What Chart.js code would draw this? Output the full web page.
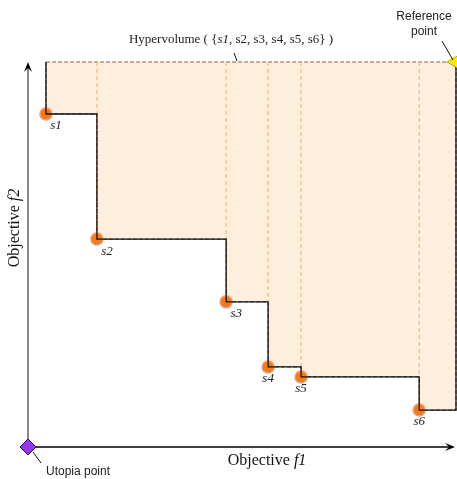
<!DOCTYPE html>
<html>
<head>
<meta charset="utf-8">
<script src="https://cdn.jsdelivr.net/npm/chart.js"></script>
<style>
  body { margin: 0; background: #fff; }
  #wrap { width: 457px; height: 479px; }
</style>
</head>
<body>
<div id="wrap"><canvas id="hv" width="457" height="479"></canvas></div>
<script>
// non-dominated solutions (objective space)
const names = ['s1', 's2', 's3', 's4', 's5', 's6'];
const f1 = [0.42, 1.61, 4.63, 5.61, 6.38, 9.14];
const f2 = [8.65, 5.40, 3.77, 2.08, 1.82, 0.96];
const refPoint = [10, 10];
const utopia = [0, 0];

// staircase from the reference level down through every solution
const stairs = [{ x: f1[0], y: refPoint[1] }];
f1.forEach(function(x, i) {
    stairs.push({ x: x, y: f2[i] });
    var nextX = i < f1.length - 1 ? f1[i + 1] : refPoint[0];
    stairs.push({ x: nextX, y: f2[i] });
});
stairs.push({ x: refPoint[0], y: refPoint[1] });
const region = stairs.concat([{ x: f1[0], y: refPoint[1] }]);

// dashed dividers above s2..s6
const dividers = f1.slice(1).map(function(x, i) {
    return {
        data: [{ x: x, y: refPoint[1] }, { x: x, y: f2[i + 1] }],
        showLine: true, borderColor: '#f9b06a', borderWidth: 1, borderDash: [4, 3],
        pointRadius: 0, clip: false, order: 3
    };
});

function drawRuns(ctx, runs, x, y, align) {
    var total = 0;
    runs.forEach(function(r) { ctx.font = r[1]; total += ctx.measureText(r[0]).width; });
    var cx = align === 'center' ? x - total / 2 : x;
    ctx.textAlign = 'left';
    runs.forEach(function(r) {
        ctx.font = r[1];
        ctx.fillText(r[0], cx, y);
        cx += ctx.measureText(r[0]).width;
    });
}

function arrow(ctx, x1, y1, x2, y2, color) {
    var a = Math.atan2(y2 - y1, x2 - x1), len = 10, w = 4;
    ctx.strokeStyle = color;
    ctx.lineWidth = 1.4;
    ctx.beginPath();
    ctx.moveTo(x1, y1);
    ctx.lineTo(x2 - Math.cos(a) * 4, y2 - Math.sin(a) * 4);
    ctx.stroke();
    ctx.fillStyle = '#000';
    ctx.beginPath();
    ctx.moveTo(x2, y2);
    ctx.lineTo(x2 - len * Math.cos(a) + w * Math.sin(a), y2 - len * Math.sin(a) - w * Math.cos(a));
    ctx.lineTo(x2 - 6 * Math.cos(a), y2 - 6 * Math.sin(a));
    ctx.lineTo(x2 - len * Math.cos(a) - w * Math.sin(a), y2 - len * Math.sin(a) + w * Math.cos(a));
    ctx.closePath();
    ctx.fill();
}

const decorations = {
    id: 'decorations',
    beforeDatasetsDraw: function(chart) {
        var ctx = chart.ctx, xs = chart.scales.x, ys = chart.scales.y;
        var ox = xs.getPixelForValue(utopia[0]), oy = ys.getPixelForValue(utopia[1]);
        ctx.save();
        arrow(ctx, ox, oy, ox, ys.getPixelForValue(refPoint[1]), '#555');
        arrow(ctx, ox, oy, xs.getPixelForValue(refPoint[0]) - 1, oy, '#000');
        ctx.restore();
    },
    afterDraw: function(chart) {
        var ctx = chart.ctx, xs = chart.scales.x, ys = chart.scales.y;
        ctx.save();
        ctx.fillStyle = '#222';
        ctx.textBaseline = 'middle';
        // point labels
        var serifI = 'italic 13px "Liberation Serif"';
        names.forEach(function(n, i) {
            var px = xs.getPixelForValue(f1[i]), py = ys.getPixelForValue(f2[i]);
            var dx = i < 3 ? 10 : 0;
            ctx.font = serifI;
            ctx.textAlign = 'center';
            ctx.fillText(n, px + dx, py + 12);
        });
        // hypervolume caption
        var reg = '13px "Liberation Serif"';
        drawRuns(ctx, [['Hypervolume ( {', reg], ['s1', serifI], [', s2, s3, s4, s5, s6} )', reg]], 231, 40, 'center');
        // axis titles
        var big = '16px "Liberation Serif"', bigI = 'italic 16px "Liberation Serif"';
        ctx.fillStyle = '#111';
        drawRuns(ctx, [['Objective ', big], ['f1', bigI]], 267, 461, 'center');
        ctx.save();
        ctx.translate(15, 228);
        ctx.rotate(-Math.PI / 2);
        drawRuns(ctx, [['Objective ', big], ['f2', bigI]], 0, 0, 'center');
        ctx.restore();
        // callouts
        ctx.fillStyle = '#222';
        ctx.font = '12px "Liberation Sans"';
        ctx.textAlign = 'center';
        ctx.fillText('Reference', 424, 17);
        ctx.fillText('point', 424, 32);
        ctx.textAlign = 'left';
        ctx.fillText('Utopia point', 46, 472);
        ctx.strokeStyle = '#111';
        ctx.lineWidth = 1;
        ctx.beginPath();
        ctx.moveTo(442, 41); ctx.lineTo(453, 60);
        ctx.moveTo(234, 53); ctx.lineTo(237, 61);
        ctx.moveTo(33, 452); ctx.lineTo(41, 463);
        ctx.stroke();
        ctx.restore();
    }
};

new Chart(document.getElementById('hv').getContext('2d'), {
    type: 'scatter',
    data: {
        datasets: [{
            data: region, showLine: true, fill: 'shape',
            backgroundColor: '#fdeede', borderColor: '#7d6650', borderWidth: 1.2,
            borderDash: [4, 2], pointRadius: 0, clip: false, order: 6
        }, {
            data: f1.map(function(x, i) { return { x: x, y: f2[i] }; }),
            pointRadius: 6, pointBackgroundColor: '#f57c0f', pointBorderColor: '#ee9a7c',
            pointBorderWidth: 1.5, clip: false, order: 4
        }].concat(dividers).concat([{
            data: stairs, showLine: true, borderColor: '#111', borderWidth: 1.3,
            pointRadius: 0, clip: false, order: 1
        }, {
            data: [{ x: refPoint[0], y: refPoint[1] }],
            pointStyle: 'triangle', rotation: -90, pointRadius: 9,
            pointBackgroundColor: '#ffee00', pointBorderColor: '#b8a800', clip: false, order: 0
        }, {
            data: [{ x: utopia[0], y: utopia[1] }],
            pointStyle: 'rectRot', pointRadius: 8, pointBorderWidth: 1,
            pointBackgroundColor: '#9636ee', pointBorderColor: '#2a0a50', clip: false, order: 0
        }])
    },
    options: {
        responsive: false,
        animation: false,
        events: [],
        layout: { autoPadding: false, padding: { left: 28, right: 1, top: 62, bottom: 32 } },
        scales: {
            x: { type: 'linear', min: 0, max: 10, display: false },
            y: { type: 'linear', min: 0, max: 10, display: false }
        },
        plugins: { legend: { display: false }, tooltip: { enabled: false } }
    },
    plugins: [decorations]
});
</script>
</body>
</html>
